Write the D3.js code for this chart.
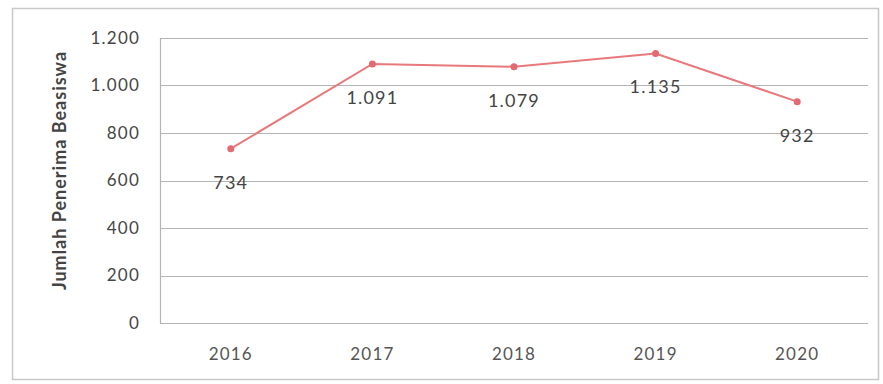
<!DOCTYPE html>
<html>
<head>
<meta charset="utf-8">
<script src="https://cdn.jsdelivr.net/npm/d3@7"></script>
<style>
	body { margin: 0; background: #fff; }
</style>
</head>
<body>
<script>
	// Data
	const years = ["2016", "2017", "2018", "2019", "2020"];
	const recipients = [734, 1091, 1079, 1135, 932];
	const yTicks = [0, 200, 400, 600, 800, 1000, 1200];

	const W = 883, H = 384;
	const margin = { top: 38, right: 15, bottom: 61, left: 160 };
	const width = 868 - margin.left;
	const height = 323 - margin.top;

	// Indonesian formatting: period as thousands separator
	const idLocale = d3.formatLocale({ decimal: ",", thousands: ".", grouping: [3], currency: ["Rp", ""] });
	const fmt = idLocale.format(",");

	const svg = d3.select("body").append("svg")
		.attr("width", W)
		.attr("height", H)
		.style("font-family", "Lato, 'Open Sans', sans-serif");

	// Outer frame
	svg.append("rect")
		.attr("x", 12.5)
		.attr("y", 8.5)
		.attr("width", 866)
		.attr("height", 371)
		.attr("fill", "#fff")
		.attr("stroke", "#c8c8c8")
		.attr("stroke-width", 1.5);

	const g = svg.append("g")
		.attr("transform", `translate(${margin.left},${margin.top})`);

	const x = d3.scaleBand()
		.domain(years)
		.range([0, width]);

	const y = d3.scaleLinear()
		.domain([0, 1200])
		.range([height, 0]);

	// Gridlines
	g.append("g")
		.selectAll("line")
		.data(yTicks)
		.join("line")
		.attr("x1", 0)
		.attr("x2", width)
		.attr("y1", d => Math.round(y(d)) + 0.5)
		.attr("y2", d => Math.round(y(d)) + 0.5)
		.attr("stroke", "#b4b4b4")
		.attr("stroke-width", 1.2);

	// Left axis line
	g.append("line")
		.attr("x1", 0.5).attr("x2", 0.5)
		.attr("y1", 0).attr("y2", height)
		.attr("stroke", "#b4b4b4")
		.attr("stroke-width", 1.2);

	// Y tick labels
	g.append("g")
		.selectAll("text")
		.data(yTicks)
		.join("text")
		.attr("x", -20)
		.attr("y", d => y(d))
		.attr("dy", "0.35em")
		.attr("text-anchor", "end")
		.style("font-size", "17px")
		.style("letter-spacing", "1.2px")
		.style("fill", "#454545")
		.text(d => fmt(d));

	// X tick labels
	g.append("g")
		.selectAll("text")
		.data(years)
		.join("text")
		.attr("x", d => x(d) + x.bandwidth() / 2)
		.attr("y", height + 37)
		.attr("text-anchor", "middle")
		.style("font-size", "17px")
		.style("letter-spacing", "1.2px")
		.style("fill", "#555")
		.text(d => d);

	// Y axis title
	svg.append("text")
		.attr("transform", `translate(66,${margin.top + height / 2 - 10}) rotate(-90)`)
		.attr("text-anchor", "middle")
		.style("font-size", "18px")
		.style("font-weight", "bold")
		.style("letter-spacing", "1px")
		.style("fill", "#444")
		.text("Jumlah Penerima Beasiswa");

	const points = years.map((yr, i) => ({ year: yr, value: recipients[i] }));

	const line = d3.line()
		.x(d => x(d.year) + x.bandwidth() / 2)
		.y(d => y(d.value));

	g.append("path")
		.datum(points)
		.attr("d", line)
		.attr("fill", "none")
		.attr("stroke", "#e8787c")
		.attr("stroke-width", 2);

	g.selectAll(".dot")
		.data(points)
		.join("circle")
		.attr("class", "dot")
		.attr("cx", d => x(d.year) + x.bandwidth() / 2)
		.attr("cy", d => y(d.value))
		.attr("r", 3.5)
		.attr("fill", "#e26a70");

	// Data labels below points
	g.selectAll(".lbl")
		.data(points)
		.join("text")
		.attr("class", "lbl")
		.attr("x", d => x(d.year) + x.bandwidth() / 2)
		.attr("y", d => y(d.value) + 40)
		.attr("text-anchor", "middle")
		.style("font-size", "18px")
		.style("letter-spacing", "1.2px")
		.style("fill", "#444")
		.text(d => fmt(d.value));
</script>
</body>
</html>
